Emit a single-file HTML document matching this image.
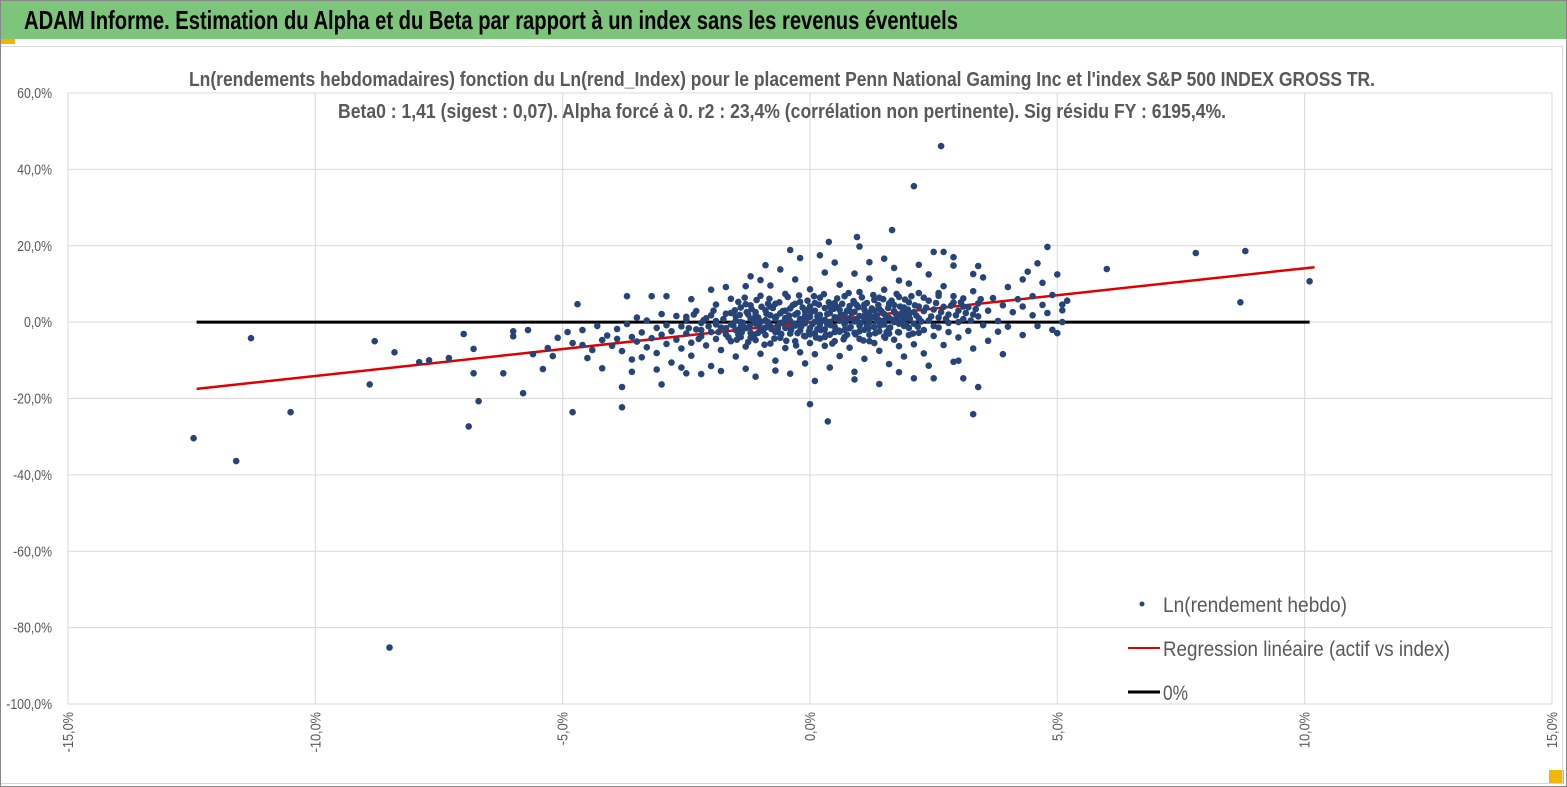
<!DOCTYPE html>
<html><head><meta charset="utf-8">
<style>
html,body{margin:0;padding:0;background:#fff;}
svg{display:block;font-family:"Liberation Sans Narrow","Liberation Sans",sans-serif;}
</style></head>
<body>
<svg id="chart" width="1567" height="787" viewBox="0 0 1567 787">
<rect x="0" y="0" width="1567" height="787" fill="#fff"/>
<rect x="0" y="0" width="1567" height="39" fill="#7dc57a"/>
<rect x="0" y="0" width="1567" height="1" fill="#888"/>
<text x="24" y="29" font-size="26" font-weight="bold" fill="#000" textLength="934" lengthAdjust="spacingAndGlyphs">ADAM Informe. Estimation du Alpha et du Beta par rapport à un index sans les revenus éventuels</text>
<rect x="0" y="39" width="15" height="5" fill="#f2b800"/>
<rect x="1549" y="770" width="15" height="14" fill="#f2b800"/>
<rect x="0.5" y="46.5" width="1562" height="737" fill="none" stroke="#d9d9d9"/>
<rect x="0.5" y="0.5" width="1566" height="786" fill="none" stroke="#888"/>
<g id="grid"></g>
<g id="lines"></g>
<g id="dots"></g>
<g id="axes"></g>
<text x="782" y="86" font-size="20" font-weight="bold" fill="#595959" text-anchor="middle" textLength="1186" lengthAdjust="spacingAndGlyphs">Ln(rendements hebdomadaires) fonction du Ln(rend_Index) pour le placement Penn National Gaming Inc et l'index S&amp;P 500 INDEX GROSS TR.</text>
<text x="782" y="118" font-size="20" font-weight="bold" fill="#595959" text-anchor="middle" textLength="888" lengthAdjust="spacingAndGlyphs">Beta0 : 1,41 (sigest : 0,07). Alpha forcé à 0. r2 : 23,4% (corrélation non pertinente). Sig résidu FY : 6195,4%.</text>
<g>
 <circle cx="1142" cy="604" r="2.5" fill="#264478"/>
 <text x="1163" y="612" font-size="21" fill="#595959" textLength="184" lengthAdjust="spacingAndGlyphs">Ln(rendement hebdo)</text>
 <line x1="1128" y1="648" x2="1160" y2="648" stroke="#e00000" stroke-width="2"/>
 <text x="1163" y="656" font-size="21" fill="#595959" textLength="287" lengthAdjust="spacingAndGlyphs">Regression linéaire (actif vs index)</text>
 <line x1="1128" y1="692" x2="1160" y2="692" stroke="#000" stroke-width="3"/>
 <text x="1163" y="700" font-size="21" fill="#595959" textLength="25" lengthAdjust="spacingAndGlyphs">0%</text>
</g>
</svg>
<script>
const xTicks = [-15,-10,-5,0,5,10,15];
const xTickLabels = ["-15,0%","-10,0%","-5,0%","0,0%","5,0%","10,0%","15,0%"];
const yTicks = [60,40,20,0,-20,-40,-60,-80,-100];
const yTickLabels = ["60,0%","40,0%","20,0%","0,0%","-20,0%","-40,0%","-60,0%","-80,0%","-100,0%"];
const beta = 1.41;
const lineRange = [-12.4, 10.2];
const zeroRange = [-12.4, 10.1];
const points = [
[-12.46,-30.4],[-11.6,-36.4],[-11.3,-4.2],[-10.5,-23.6],[-8.9,-16.3],[-8.8,-5.0],[-8.5,-85.2],[-8.4,-7.9],[-7.9,-10.5],[-7.7,-10],[-7.3,-9.4],[-7.0,-3.1],[-6.9,-27.3],[-6.8,-7],[-6.8,-13.4],[-6.7,-20.7],[-6.2,-13.4],[-6.0,-2.4],[-6.0,-3.7],[-5.8,-18.6],[-5.7,-2.1],[-5.6,-8.4],[-5.4,-12.3],[-5.2,-8.9],[-4.9,-2.6],[-4.8,-23.6],[-4.7,4.7],[-4.6,-2.1],[-4.6,-6],[-4.4,-7.3],[-4.3,-1],[-4.2,-4.7],[-3.8,-17],[-3.8,-22.3],[-3.7,6.8],[-3.4,-9.2],[-3.2,6.8],[-3.0,-16.3],[-2.9,6.8],[-2.5,-13.4],[-1.3,9.4],[-1.2,12],[-0.4,18.9],[-0.2,16.8],[0,-21.5],[0.36,-26],[0.38,21],[0.95,22.3],[1.2,15.7],[1.66,24.1],[2.1,35.6],[2.65,46.1],[2.1,-14.7],[2.5,-14.7],[3.1,-14.7],[3.3,-24.1],[3.4,-17],[3.9,-8.4],[4.8,19.7],[5.0,-2.9],[5.1,0],[6.0,13.9],[7.8,18.1],[8.8,18.6],[8.7,5.2],[10.1,10.7],
[-4.1,-3.5],[-4.0,-6.2],[-3.9,-1.8],[-3.9,-4.4],[-3.8,-7.6],[-3.7,-0.5],[-3.6,-3.9],[-3.6,-9.8],[-3.5,-5.1],[-3.5,1.2],[-3.4,-2.7],[-3.3,-6.6],[-3.3,0.4],[-3.2,-4.2],[-3.1,-1.5],[-3.1,-8.1],[-3.0,-3.3],[-3.0,2.1],[-2.9,-5.7],[-2.9,-0.8],[-2.8,-2.4],[-2.8,-10.6],[-2.7,-4.6],[-2.7,1.6],[-2.6,-1.1],[-2.6,-6.9],[-2.5,-3.0],[-2.5,0.6],[-2.4,-5.4],[-2.4,-8.8],[-2.3,-1.9],[-2.3,2.9],[-2.2,-3.7],[-2.2,-0.2],[-2.1,-6.1],[-2.1,1.0],[-2.0,-2.6],[-2.0,-11.5],[-1.9,-4.4],[-1.9,0.3],[-1.9,4.6],[-1.8,-1.4],[-1.8,-7.3],[-1.7,-3.2],[-1.7,2.2],[-1.6,-5.0],[-1.6,-0.6],[-1.6,6.1],[-1.5,-2.1],[-1.5,-9.0],[-1.5,1.5],[-1.4,-3.9],[-1.4,0.0],[-1.4,3.8],[-1.3,-1.6],[-1.3,-6.4],[-1.3,-12.2],[-1.2,-2.8],[-1.2,0.9],[-1.2,4.4],[-1.1,-4.7],[-1.1,-0.4],[-1.1,2.6],[-1.0,-1.9],[-1.0,-8.3],[-1.0,6.9],[-0.9,-3.4],[-0.9,0.5],[-0.9,3.1],[-0.8,-5.6],[-0.8,-1.1],[-0.8,1.8],[-0.8,9.6],[-0.7,-2.6],[-0.7,-10.1],[-0.7,4.8],[-0.6,-4.1],[-0.6,-0.2],[-0.6,2.3],[-0.5,-6.8],[-0.5,-1.5],[-0.5,1.1],[-0.5,7.4],[-0.4,-3.0],[-0.4,0.3],[-0.4,3.6],[-0.4,-13.5],[-0.3,-5.0],[-0.3,-0.9],[-0.3,2.0],[-0.3,11.2],[-0.2,-2.2],[-0.2,-7.9],[-0.2,0.8],[-0.2,5.3],[-0.1,-3.7],[-0.1,-0.3],[-0.1,2.8],[-0.1,-10.8],[0.0,-1.6],[0.0,-5.5],[0.0,1.4],[0.0,4.1],[0.0,8.6],[0.1,-2.9],[0.1,0.1],[0.1,3.0],[0.1,-8.4],[0.2,-4.3],[0.2,-0.7],[0.2,1.9],[0.2,6.4],[0.3,-1.9],[0.3,-6.2],[0.3,0.6],[0.3,3.7],[0.3,13.0],[0.4,-3.3],[0.4,-0.1],[0.4,2.4],[0.4,-11.9],[0.5,-1.2],[0.5,-5.0],[0.5,1.3],[0.5,5.0],[0.6,-2.5],[0.6,0.4],[0.6,3.2],[0.6,-8.9],[0.6,9.8],[0.7,-3.9],[0.7,-0.5],[0.7,2.0],[0.7,6.8],[0.8,-1.6],[0.8,-6.7],[0.8,1.0],[0.8,4.2],[0.9,-2.8],[0.9,0.2],[0.9,2.7],[0.9,-13.0],[1.0,-4.4],[1.0,-0.9],[1.0,1.6],[1.0,7.9],[1.1,-2.0],[1.1,-9.6],[1.1,0.8],[1.1,4.6],[1.2,-3.3],[1.2,-0.2],[1.2,2.5],[1.2,11.4],[1.3,-5.5],[1.3,-1.3],[1.3,1.4],[1.3,5.8],[1.4,-2.4],[1.4,0.5],[1.4,3.4],[1.4,-7.5],[1.5,-3.8],[1.5,-0.6],[1.5,2.1],[1.5,8.5],[1.6,-1.7],[1.6,-11.0],[1.6,1.1],[1.6,4.9],[1.7,-4.6],[1.7,0.0],[1.7,2.9],[1.7,14.2],[1.8,-2.7],[1.8,-6.3],[1.8,1.6],[1.8,6.6],[1.9,-1.0],[1.9,0.7],[1.9,3.8],[1.9,-9.0],[2.0,-3.4],[2.0,1.9],[2.0,5.2],[2.0,10.1],[2.1,-0.4],[2.1,2.6],[2.1,-5.8],[2.2,1.0],[2.2,4.1],[2.2,7.6],[2.3,-2.1],[2.3,2.9],[2.3,-8.2],[2.4,0.4],[2.4,5.6],[2.4,12.5],[2.5,-3.6],[2.5,3.3],[2.6,1.2],[2.6,6.9],[2.6,-1.4],[2.7,4.0],[2.7,-6.0],[2.7,9.4],[2.8,2.0],[2.8,-0.2],[2.9,5.1],[2.9,-10.4],[2.9,14.8],[3.0,3.0],[3.0,-4.0],[3.1,0.8],[3.1,6.2],[3.2,-2.3],[3.2,3.9],[3.3,8.1],[3.3,-6.9],[3.4,1.5],[3.4,4.9],[3.5,-0.8],[3.5,11.7],[3.6,3.0],[3.6,-4.9],[3.7,6.3],[3.8,0.3],[3.8,-2.5],[3.9,4.4],[4.0,9.2],[4.0,-1.2],[4.1,2.6],[4.2,6.0],[4.3,-3.4],[4.3,4.1],[4.4,13.2],[4.5,1.8],[4.5,6.8],[4.6,-1.0],[4.7,4.5],[4.7,10.3],[4.8,2.4],[4.9,7.1],[4.9,-2.0],[5.0,12.5],[5.1,4.6],[5.1,3.1],[5.2,5.6],
[-4.8,-5.5],[-5.1,-4.1],[-5.3,-6.8],[-4.5,-9.4],[-4.2,-12.1],[-3.6,-13.0],[-3.1,-12.4],[-2.6,-11.9],[-2.2,-13.6],[-1.8,-12.8],[-1.1,-14.3],[-0.7,-12.7],[0.1,-15.4],[0.9,-15.0],[1.4,-16.2],[1.8,-13.1],[2.4,-11.4],[3.0,-10.1],[-2.0,8.5],[-2.4,6.0],[-1.0,11.0],[-0.6,13.8],[0.5,15.6],[0.9,12.7],[1.5,16.6],[2.2,15.0],[2.7,18.4],[2.5,18.4],[2.9,17.0],[3.4,14.7],[3.3,12.6],[4.3,11.2],[4.6,15.4],[-1.7,9.2],[-0.9,14.9],[0.2,17.5],[1.0,19.8],[1.8,10.9],
[-1.55,-0.9],[-1.52,3.1],[-1.48,-4.6],[-1.45,5.3],[-1.42,1.9],[-1.38,-2.7],[-1.35,-0.2],[-1.32,6.4],[-1.28,2.6],[-1.25,-5.2],[-1.22,-1.0],[-1.18,3.4],[-1.15,0.6],[-1.12,-3.3],[-1.08,5.8],[-1.05,1.2],[-1.02,-0.7],[-0.98,4.0],[-0.95,-2.3],[-0.92,-5.9],[-0.88,2.2],[-0.85,0.0],[-0.82,6.1],[-0.78,-1.8],[-0.75,3.7],[-0.72,-4.3],[-0.68,1.5],[-0.65,-0.9],[-0.62,5.2],[-0.58,-3.1],[-0.55,2.9],[-0.52,0.2],[-0.48,-4.9],[-0.45,6.6],[-0.42,1.7],[-0.38,-2.0],[-0.35,4.4],[-0.32,-0.4],[-0.28,-6.1],[-0.25,2.4],[-0.22,7.0],[-0.18,-1.2],[-0.15,3.8],[-0.12,-3.6],[-0.08,0.9],[-0.05,5.6],[-0.02,-2.4],[0.02,2.6],[0.05,-0.5],[0.08,6.8],[0.12,-4.0],[0.15,1.6],[0.18,4.6],[0.22,-2.1],[0.25,0.4],[0.28,7.3],[0.32,-3.4],[0.35,2.1],[0.38,5.2],[0.42,-0.8],[0.45,-5.6],[0.48,3.5],[0.52,0.9],[0.55,6.2],[0.58,-2.2],[0.62,1.9],[0.65,4.8],[0.68,-4.5],[0.72,0.1],[0.75,3.0],[0.78,7.6],[0.82,-1.3],[0.85,2.4],[0.88,5.5],[0.92,-3.2],[0.95,0.6],[0.98,3.9],[1.02,-0.3],[1.05,6.5],[1.08,-4.8],[1.12,2.2],[1.15,5.0],[1.18,-1.7],[1.22,1.0],[1.25,3.6],[1.28,7.1],[1.32,-2.9],[1.35,0.3],[1.38,4.5],[1.42,-0.9],[1.45,2.8],[1.48,6.0],[1.52,-4.1],[1.55,1.3],[1.58,3.7],[1.62,-1.4],[1.65,5.6],[1.68,0.6],[1.72,2.4],[1.75,7.4],[1.78,-2.6],[1.82,4.1],[1.85,0.0],[1.88,2.9],[1.92,5.9],[1.95,-0.8],[1.98,3.3],[2.02,0.9],[2.05,6.8],[2.08,-3.0],[2.12,4.4],[2.15,1.7],[2.18,-1.2],
[-1.5,0.4],[-1.4,-1.3],[-1.3,4.7],[-1.2,-4.1],[-1.1,1.8],[-1.0,0.2],[-0.9,-1.4],[-0.8,4.1],[-0.7,0.9],[-0.6,-3.0],[-0.5,3.0],[-0.4,-1.7],[-0.3,4.8],[-0.2,-0.5],[-0.1,1.7],[0.0,-3.2],[0.1,5.0],[0.2,0.3],[0.3,-3.9],[0.4,4.0],[0.5,-2.6],[0.6,1.4],[0.7,-2.0],[0.8,2.9],[0.9,5.0],[1.0,-2.4],[1.1,3.3],[1.2,-5.0],[1.3,3.1],[1.4,6.4],[1.5,0.4],[1.6,-3.0],[1.7,4.5],[1.8,-0.4],[1.9,2.0],[2.0,-1.5],
[-1.45,-3.2],[-1.25,2.0],[-1.05,-2.8],[-0.85,4.8],[-0.65,-1.6],[-0.45,0.6],[-0.25,-2.9],[-0.05,3.2],[0.15,-1.8],[0.35,-0.6],[0.55,3.9],[0.75,-3.3],[0.95,4.4],[1.15,-0.8],[1.35,1.8],[1.55,-2.6],[1.75,1.0],[1.95,1.2],
[-2.45,-1.6],[-2.35,2.0],[-2.25,-4.4],[-2.15,0.5],[-2.05,-1.1],[-1.95,3.0],[-1.85,-2.6],[-1.75,0.8],[-1.65,-4.0],[-1.6,2.4],[-2.5,1.4],[-2.2,-2.1],[-1.9,-0.6],[-1.7,-1.6],[-2.0,1.8],
[2.25,0.2],[2.35,3.8],[2.45,1.5],[2.55,5.0],[2.65,2.6],[2.75,0.9],[2.85,4.3],[2.95,1.8],[3.05,5.2],[3.15,2.4],[3.25,0.4],[3.35,3.4],[2.3,6.4],[2.6,7.6],[2.9,6.8],[3.1,4.1],[2.5,-1.0],[2.8,-2.6],[3.0,0.0],[2.2,-2.8],[3.3,2.0],[3.45,6.0]
];
const X0=68, X1=1552, Y0=93, Y1=704;
function sx(v){return X0+(v+15)/30*(X1-X0);}
function sy(v){return Y1-(v+100)/160*(Y1-Y0);}
const NS="http://www.w3.org/2000/svg";
function mk(tag,attrs,parent){const e=document.createElementNS(NS,tag);for(const k in attrs)e.setAttribute(k,attrs[k]);parent.appendChild(e);return e;}
const grid=document.getElementById('grid'), axes=document.getElementById('axes'), dots=document.getElementById('dots'), lines=document.getElementById('lines');
yTicks.forEach((t,i)=>{
  const g=mk('line',{x1:X0,x2:X1,y1:sy(t),y2:sy(t),stroke:'#d9d9d9','stroke-width':1},grid);
  
  
  const l=mk('text',{x:0,y:0,'font-size':15,fill:'#595959','text-anchor':'end',transform:'translate(52,'+(sy(t)+5)+') scale(0.82,1)'},axes);
  l.textContent=yTickLabels[i];
  
  
});
xTicks.forEach((t,i)=>{
  const g=mk('line',{x1:sx(t),x2:sx(t),y1:Y0,y2:Y1,stroke:'#d9d9d9','stroke-width':1},grid);
  
  
  const l=mk('text',{x:0,y:0,'font-size':15,fill:'#595959','text-anchor':'end',transform:'translate('+(sx(t)+5)+',712) rotate(-90) scale(0.85,1)'},axes);
  l.textContent=xTickLabels[i];
  
  
});
const z=mk('line',{x1:sx(zeroRange[0]),x2:sx(zeroRange[1]),y1:sy(0),y2:sy(0),stroke:'#000','stroke-width':3},lines);


const r=mk('line',{x1:sx(lineRange[0]),x2:sx(lineRange[1]),y1:sy(beta*lineRange[0]),y2:sy(beta*lineRange[1]),stroke:'#e00000','stroke-width':2.5},lines);


points.forEach(p=>{
  const c=mk('circle',{cx:sx(p[0]).toFixed(1),cy:sy(p[1]).toFixed(1),r:3.3,fill:'#264478'},dots);
  
  
});
</script>
</body></html>
